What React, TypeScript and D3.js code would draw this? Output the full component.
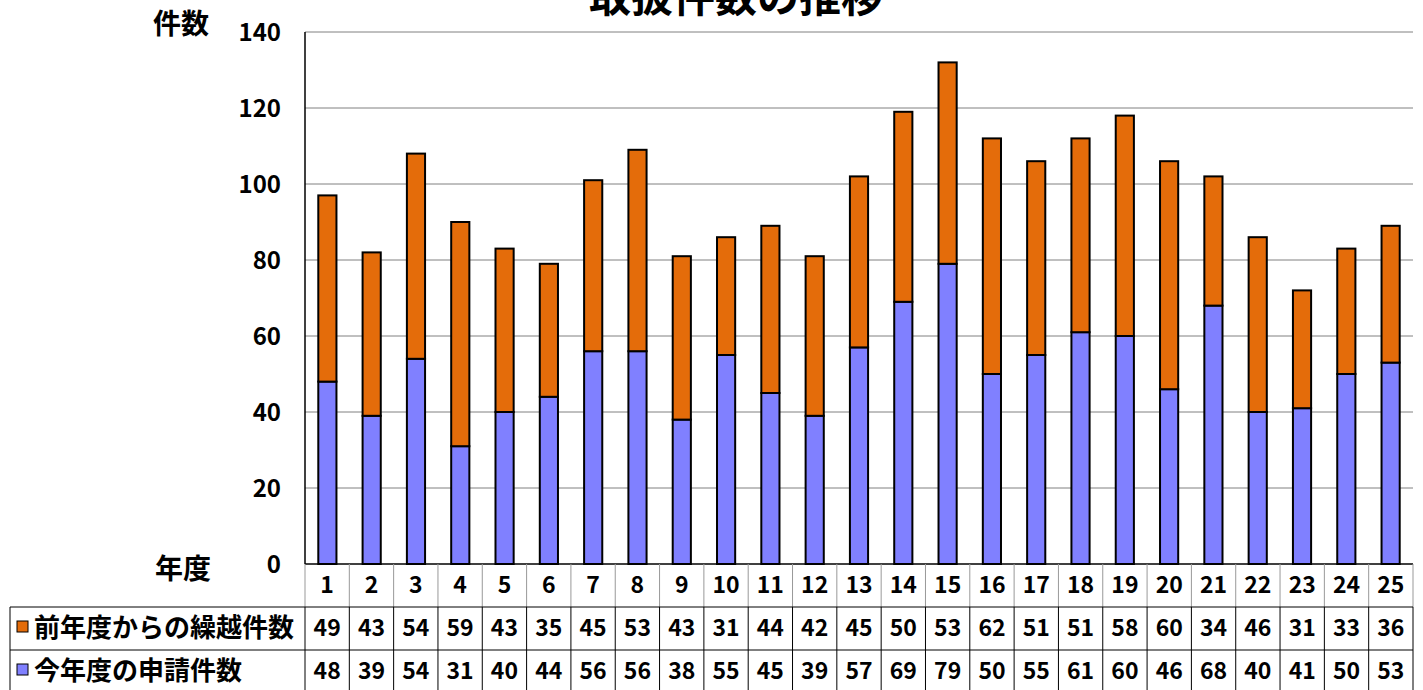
import React, { useEffect, useRef } from 'react';
import * as d3 from 'd3';

const years = ['1', '2', '3', '4', '5', '6', '7', '8', '9', '10', '11', '12', '13', '14', '15', '16', '17', '18', '19', '20', '21', '22', '23', '24', '25'];
const carriedOver = [49, 43, 54, 59, 43, 35, 45, 53, 43, 31, 44, 42, 45, 50, 53, 62, 51, 51, 58, 60, 34, 46, 31, 33, 36];
const newApplications = [48, 39, 54, 31, 40, 44, 56, 56, 38, 55, 45, 39, 57, 69, 79, 50, 55, 61, 60, 46, 68, 40, 41, 50, 53];
const yTicks = [0, 20, 40, 60, 80, 100, 120, 140];

const seriesNames = ['前年度からの繰越件数', '今年度の申請件数'];
const ORANGE = '#E46C0A';
const BLUE = '#8080FF';
const FONT = '"Noto Sans CJK JP", "Noto Sans", sans-serif';

const App: React.FC = () => {
    const ref = useRef<SVGSVGElement | null>(null);

    useEffect(() => {
        if (!ref.current) return;
        const svg = d3.select(ref.current);
        svg.selectAll('*').remove();

        const left = 305, right = 1413, top = 32, bottom = 564;
        const rowH = 43;

        const x = d3.scaleBand<string>().domain(years).range([left, right]).paddingInner(0.59).paddingOuter(0.3);
        const cell = d3.scaleBand<string>().domain(years).range([left, right]);
        const y = d3.scaleLinear().domain([0, 140]).range([bottom, top]);

        // gridlines
        svg.append('g').selectAll('line').data(yTicks.filter(t => t > 0)).enter().append('line')
            .attr('x1', left).attr('x2', right)
            .attr('y1', d => y(d)).attr('y2', d => y(d))
            .attr('stroke', '#808080').attr('stroke-width', 1);

        // y labels
        svg.append('g').selectAll('text').data(yTicks).enter().append('text')
            .attr('x', 281).attr('y', d => y(d)).attr('dy', '0.36em')
            .attr('text-anchor', 'end')
            .style('font-family', FONT).style('font-size', '24px').style('font-weight', 'bold')
            .text(d => d);

        // bars
        const stacked = years.map((yr, i) => ({ yr, a: newApplications[i], b: carriedOver[i] }));
        const g = svg.append('g');
        g.selectAll('rect.blue').data(stacked).enter().append('rect')
            .attr('x', d => x(d.yr)!).attr('width', x.bandwidth())
            .attr('y', d => y(d.a)).attr('height', d => y(0) - y(d.a))
            .attr('fill', BLUE).attr('stroke', '#000').attr('stroke-width', 2);
        g.selectAll('rect.orange').data(stacked).enter().append('rect')
            .attr('x', d => x(d.yr)!).attr('width', x.bandwidth())
            .attr('y', d => y(d.a + d.b)).attr('height', d => y(d.a) - y(d.a + d.b))
            .attr('fill', ORANGE).attr('stroke', '#000').attr('stroke-width', 2);

        // axes lines
        svg.append('line').attr('x1', left).attr('x2', left).attr('y1', top).attr('y2', bottom)
            .attr('stroke', '#000').attr('stroke-width', 1.5);
        svg.append('line').attr('x1', left).attr('x2', right).attr('y1', bottom).attr('y2', bottom)
            .attr('stroke', '#000').attr('stroke-width', 1.5);

        // data table
        const t = svg.append('g');
        const boundaries = years.map(yr => cell(yr)!).concat([right]);
        t.selectAll('line.v').data(boundaries).enter().append('line')
            .attr('x1', d => d).attr('x2', d => d)
            .attr('y1', bottom).attr('y2', bottom + rowH)
            .attr('stroke', '#999').attr('stroke-width', 1);
        t.selectAll('line.v2').data(boundaries).enter().append('line')
            .attr('x1', d => d).attr('x2', d => d)
            .attr('y1', bottom + rowH).attr('y2', 690)
            .attr('stroke', '#000').attr('stroke-width', 1);
        [bottom + rowH, bottom + 2 * rowH].forEach(yy => {
            t.append('line').attr('x1', 10).attr('x2', right).attr('y1', yy).attr('y2', yy)
                .attr('stroke', '#000').attr('stroke-width', 1);
        });
        t.append('line').attr('x1', 10).attr('x2', 10).attr('y1', bottom + rowH).attr('y2', 690)
            .attr('stroke', '#000').attr('stroke-width', 1);

        const numStyle = (s: d3.Selection<SVGTextElement, any, any, any>) =>
            s.attr('text-anchor', 'middle').attr('dy', '0.36em')
                .style('font-family', FONT).style('font-size', '23px').style('font-weight', 'bold');

        t.selectAll('text.yr').data(years).enter().append('text')
            .attr('x', d => cell(d)! + cell.bandwidth() / 2).attr('y', bottom + 21)
            .call(numStyle).text(d => d);
        const rows = [carriedOver, newApplications];
        rows.forEach((vals, r) => {
            t.selectAll(`text.r${r}`).data(vals).enter().append('text')
                .attr('x', (_d, i) => cell(years[i])! + cell.bandwidth() / 2)
                .attr('y', bottom + rowH * (r + 1) + 21)
                .call(numStyle).text(d => d);
            const cy = bottom + rowH * (r + 1) + 21;
            t.append('rect').attr('x', 17).attr('y', cy - 7).attr('width', 11).attr('height', 11)
                .attr('fill', r === 0 ? ORANGE : BLUE).attr('stroke', '#000').attr('stroke-width', 1);
            t.append('text').attr('x', 34).attr('y', cy).attr('dy', '0.36em')
                .style('font-family', FONT).style('font-size', '26px').style('font-weight', 'bold')
                .text(seriesNames[r]);
        });

        // labels
        svg.append('text').attr('x', 153).attr('y', 24).attr('dy', '0.36em')
            .style('font-family', FONT).style('font-size', '28px').style('font-weight', 'bold').text('件数');
        svg.append('text').attr('x', 155).attr('y', 569).attr('dy', '0.36em')
            .style('font-family', FONT).style('font-size', '28px').style('font-weight', 'bold').text('年度');
        svg.append('text').attr('x', 736).attr('y', 12).attr('text-anchor', 'middle')
            .style('font-family', FONT).style('font-size', '42px').style('font-weight', 'bold').text('取扱件数の推移');
    }, []);

    return (
        <svg ref={ref} width={1423} height={690}
            style={{ position: 'absolute', left: 0, top: 0, background: '#fff' }} />
    );
};

export default App;
